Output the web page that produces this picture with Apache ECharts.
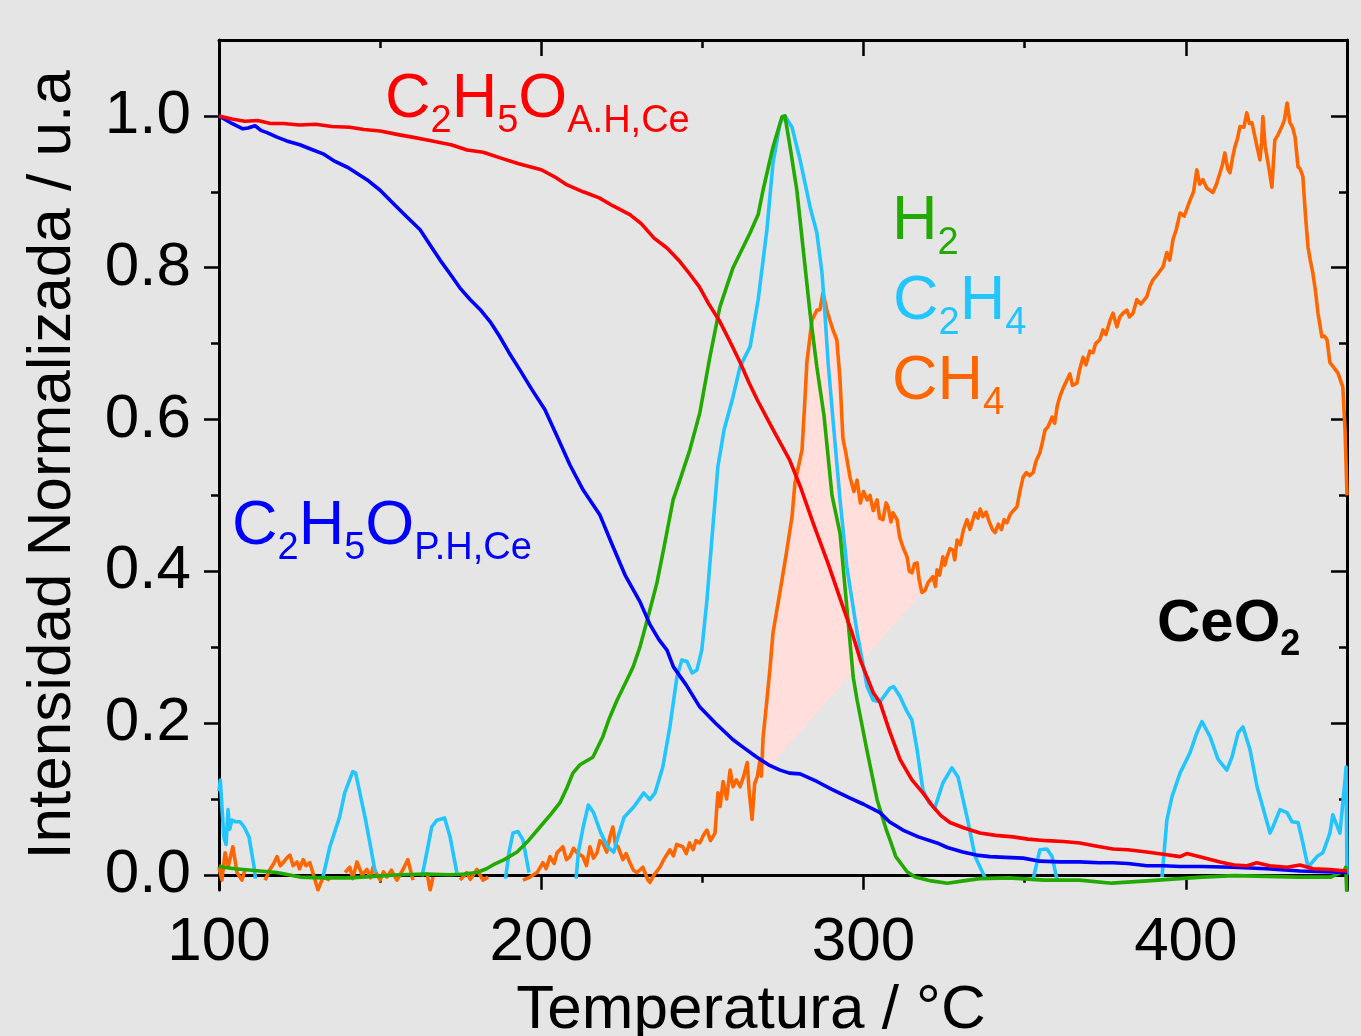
<!DOCTYPE html>
<html>
<head>
<meta charset="utf-8">
<script src="https://cdn.jsdelivr.net/npm/echarts/dist/echarts.min.js"></script>
<style>
html,body{margin:0;padding:0;background:#e5e5e5;}
#chart{width:1361px;height:1036px;}
</style>
</head>
<body>
<div id="chart"></div>
<script>
// ---------------- DATA (temperature °C, normalized intensity) ----------------
const xMajorTicks = [100, 200, 300, 400];
const xMinorTicks = [150, 250, 350];
const yMajorTicks = [0, 0.2, 0.4, 0.6, 0.8, 1.0];
const yMinorTicks = [0.1, 0.3, 0.5, 0.7, 0.9];

const c2h5oAH = [[100,1.0],[104,0.996],[108,0.993],[112,0.994],[116,0.99],[120,0.99],[125,0.988],[130,0.989],[135,0.986],[140.6,0.985],[145,0.982],[150,0.98],[156,0.975],[160,0.972],[165,0.968],[172,0.962],[177,0.955],[182,0.952],[187,0.945],[193,0.937],[200,0.929],[204,0.92],[208,0.909],[213,0.9],[218,0.892],[222,0.882],[227.5,0.87],[231,0.858],[235,0.839],[239,0.826],[243,0.808],[246,0.792],[249,0.775],[252,0.752],[255.4,0.729],[258.5,0.703],[261.7,0.675],[264.5,0.648],[267,0.626],[272,0.586],[277,0.547],[280.5,0.51],[284.3,0.464],[289,0.41],[293.6,0.353],[296.5,0.318],[299,0.283],[303,0.24],[305.1,0.227],[308,0.19],[311.3,0.152],[315,0.125],[318.4,0.108],[321.5,0.09],[324,0.078],[326.8,0.069],[331,0.062],[336.1,0.055],[341,0.052],[346.4,0.05],[351,0.047],[356.9,0.045],[362,0.044],[367.1,0.042],[372,0.038],[377.4,0.034],[382,0.033],[387.9,0.03],[393,0.027],[398.2,0.024],[400.3,0.028],[404,0.024],[410.6,0.017],[415,0.013],[419,0.012],[422,0.016],[426,0.012],[431.4,0.01],[435.4,0.013],[439.5,0.008],[444.7,0.007],[450,0.005]];

const c2h5oPH = [[100,1.0],[102,0.995],[104,0.99],[107.4,0.983],[109,0.984],[111.2,0.987],[113,0.981],[114.9,0.978],[118,0.972],[121,0.967],[125.1,0.962],[128,0.957],[132.3,0.95],[136,0.94],[140,0.932],[145.9,0.916],[150,0.902],[154,0.885],[158,0.868],[162.4,0.85],[165.5,0.83],[168.6,0.81],[172,0.79],[175,0.772],[177.9,0.758],[181,0.745],[184.1,0.729],[187,0.71],[190,0.688],[193.4,0.665],[197,0.64],[201.1,0.613],[205,0.577],[208.9,0.54],[213,0.507],[218.2,0.474],[222,0.435],[226,0.395],[230.6,0.36],[233.7,0.33],[236.5,0.31],[239,0.296],[241,0.274],[245,0.25],[249.2,0.221],[254,0.2],[259.5,0.178],[263,0.167],[266.9,0.155],[270.5,0.145],[274.1,0.138],[277,0.134],[280.3,0.133],[285.5,0.123],[290,0.113],[295.8,0.101],[300,0.093],[305.1,0.082],[308,0.07],[312.2,0.059],[317,0.05],[322.8,0.042],[326,0.036],[330.8,0.03],[335,0.026],[339.2,0.024],[344,0.023],[349.5,0.022],[354.7,0.018],[361,0.017],[367.1,0.017],[373,0.016],[377.4,0.016],[382,0.015],[387.9,0.012],[393,0.012],[398.2,0.011],[405,0.011],[414.6,0.01],[425,0.008],[435.4,0.005],[443,0.004],[450,0.003]];

const h2 = [[100,0.012],[101.2,0.01],[105,0.008],[112.7,0.005],[118,0.003],[125.1,-0.003],[132,-0.004],[140.6,-0.004],[148,-0.002],[156.2,0],[164,0.001],[171.7,0],[176,0.001],[180,0.003],[183,0.008],[185,0.013],[188.5,0.02],[192.5,0.03],[196,0.045],[199.6,0.063],[203,0.08],[205.8,0.095],[208,0.115],[209.8,0.134],[212,0.145],[216,0.155],[219.1,0.182],[221,0.205],[223.5,0.23],[226.6,0.257],[228.5,0.274],[230.6,0.3],[233.7,0.349],[235.9,0.385],[238,0.43],[240.9,0.494],[243,0.52],[246.1,0.56],[249.2,0.609],[252.3,0.682],[255.4,0.748],[259.5,0.8],[264.8,0.846],[267.3,0.87],[268.8,0.902],[271.9,0.959],[274.7,0.999],[275.6,1.0],[277.2,0.959],[279.3,0.902],[281.2,0.827],[283.4,0.74],[285.5,0.669],[287.7,0.606],[290.2,0.5],[292.7,0.45],[294.6,0.362],[296.8,0.26],[298,0.23],[301,0.165],[304.2,0.099],[307,0.06],[308.2,0.046],[310,0.024],[313.5,0.004],[316,-0.003],[321,-0.008],[326,-0.011],[331,-0.008],[336,-0.005],[345,-0.004],[356,-0.007],[367,-0.007],[377,-0.011],[388,-0.008],[398,-0.005],[405,-0.003],[415,-0.001],[425,-0.002],[435,-0.003],[445,-0.003],[449,0.005],[449.6,0.01],[450,-0.03]];

const c2h4 = [[100.0,0.11],[100.4,0.125],[100.9,0.09],[101.5,0.05],[102.2,0.04],[102.8,0.086],[103.3,0.06],[104,0.072],[105,0.07],[106.5,0.07],[107.8,0.063],[109.3,0.05],[110.9,0.01],[111.3,-0.005],[111.6,null],
[132.3,-0.002],[134.4,0.037],[137.4,0.076],[139,0.108],[141.5,0.136],[142.4,0.134],[145.5,0.072],[148.5,0.003],[149,null],
[163,-0.002],[164.5,0.03],[166,0.063],[167.6,0.072],[170,0.075],[171.7,0.05],[173.8,0.003],[174.2,null],
[188.9,-0.005],[190,0.03],[191.2,0.055],[192.8,0.057],[194.3,0.046],[196.2,0.003],[196.5,null],
[210.8,-0.005],[211.5,0.03],[213,0.063],[214.6,0.092],[216.2,0.082],[218.5,0.055],[220.6,0.037],[222.5,0.03],[223.8,0.05],[225.7,0.076],[228.8,0.09],[231.8,0.108],[233.7,0.099],[235.3,0.108],[237.7,0.142],[239.9,0.195],[242.1,0.261],[243.6,0.283],[245.2,0.281],[246.8,0.266],[248.3,0.27],[249.8,0.296],[251.4,0.362],[252.9,0.441],[254.8,0.538],[256.7,0.586],[259.5,0.63],[261.7,0.67],[264.8,0.696],[267.3,0.758],[270.0,0.85],[271.9,0.938],[274.1,0.991],[275.6,1.0],[277.8,0.985],[280.3,0.942],[283.4,0.88],[285.5,0.846],[287.1,0.793],[288.0,0.74],[289.0,0.675],[290.5,0.6],[292.7,0.494],[294.8,0.406],[298.0,0.319],[301.1,0.248],[303,0.23],[305.1,0.228],[308.2,0.246],[309.3,0.248],[311.3,0.235],[313.5,0.215],[315,0.204],[316.6,0.165],[318.4,0.112],[320.3,0.095],[322.1,0.088],[324.6,0.121],[327.4,0.141],[329.3,0.129],[332.1,0.076],[334.6,0.024],[337.7,-0.004],[338,null],
[352.6,-0.006],[354.7,0.033],[356.9,0.034],[358.5,0.024],[360,-0.006],[360.3,null],
[392.6,-0.003],[394.1,0.072],[395.7,0.103],[398.2,0.134],[401.3,0.161],[403.4,0.187],[405,0.202],[407.5,0.182],[410,0.152],[412.7,0.138],[414.3,0.155],[416.2,0.187],[417.7,0.195],[419.9,0.165],[422.1,0.116],[425.2,0.069],[426.1,0.055],[427,0.063],[429.2,0.086],[431.4,0.082],[432.9,0.07],[434.8,0.069],[436.3,0.042],[437.9,0.01],[440.7,0.024],[442.5,0.029],[444.7,0.055],[445.6,0.079],[447.8,0.055],[449.4,0.125],[449.7,0.142],[450,0.0]];

const ch4 = [[100.0,0.01],[100.9,-0.007],[101.9,0.029],[102.8,0.01],[104.3,0.037],[105.6,0.003],[107.1,-0.007],[108.1,0.007],[109.6,null],
[114.3,-0.007],[115.8,0.007],[117,0.015],[118.0,0.024],[119,0.012],[119.9,0.016],[121,0.022],[122.0,0.026],[123,0.012],[124.2,0.017],[125,0.008],[126.1,0.02],[127,0.012],[128.2,0.016],[129.8,-0.007],[130.7,-0.02],[132.3,-0.003],[134.4,-0.007],[135.5,null],
[139.1,0.003],[140.6,0.01],[141.5,-0.005],[142.8,0.017],[144.4,0.0],[145.9,0.007],[147,-0.004],[147.8,0.01],[150.0,-0.007],[151,0.004],[152.1,-0.003],[153.5,0.006],[155.2,-0.007],[157.1,0.007],[158.6,0.02],[160.2,-0.007],[161,null],
[164.5,0.003],[165.5,-0.02],[166.4,-0.003],[167,null],
[174.8,-0.007],[176.9,0.003],[178,-0.006],[180.0,0.007],[181.9,-0.007],[183.5,-0.003],[184.5,null],
[191.2,-0.007],[192,null],
[194.3,-0.007],[196.5,-0.003],[198.7,0.003],[200.5,0.016],[201.5,0.008],[202.7,0.024],[204,0.015],[204.9,0.029],[206.7,0.037],[207.8,0.02],[208.9,0.024],[210,0.035],[211.1,0.029],[212.9,0.024],[214,0.012],[215.1,0.037],[216.2,0.022],[217.3,0.029],[218.2,0.045],[219.1,0.042],[220.3,0.03],[221.3,0.05],[222.2,0.063],[223,0.04],[223.8,0.037],[225.3,0.02],[226.3,0.028],[227.5,0.016],[228.6,0.006],[229.7,0.003],[231.5,0.01],[233.1,-0.007],[233.7,-0.01],[235,0.0],[236.8,0.01],[238,0.02],[239.9,0.033],[241,0.025],[242,0.04],[243.9,0.037],[245,0.028],[246,0.042],[247.1,0.033],[248,0.045],[249.2,0.042],[250.3,0.052],[251.4,0.059],[252.5,0.045],[253.9,0.055],[254.8,0.108],[255.5,0.09],[256.4,0.123],[257.5,0.1],[258.6,0.138],[259.5,0.116],[260.5,0.125],[261.7,0.116],[262.8,0.13],[263.9,0.148],[264.5,0.11],[265.4,0.073],[266.2,0.12],[267.0,0.129],[267.9,0.152],[268.3,0.13],[268.8,0.18],[270.0,0.23],[271.0,0.274],[271.9,0.319],[273.1,0.349],[274.7,0.389],[276.2,0.428],[277.8,0.472],[278.7,0.516],[280.9,0.56],[281.8,0.626],[282.4,0.675],[284.0,0.731],[285.5,0.744],[286.5,0.745],[287.4,0.767],[288.6,0.744],[290.5,0.718],[291.7,0.705],[292.7,0.652],[293.6,0.575],[294.5,0.556],[295.8,0.524],[297,0.505],[298.0,0.52],[299,0.49],[300,0.505],[301.1,0.494],[302,0.5],[303,0.48],[304.2,0.494],[305,0.47],[306.0,0.468],[307.0,0.49],[307.6,0.485],[308.5,0.465],[309.1,0.477],[310.4,0.468],[311.2,0.445],[312.2,0.432],[313.5,0.419],[314.2,0.4],[315.0,0.398],[315.8,0.41],[316.6,0.411],[317.2,0.39],[318.1,0.372],[319.1,0.375],[320,0.385],[321.5,0.393],[322.3,0.38],[322.8,0.402],[323.6,0.395],[324.6,0.419],[325.2,0.408],[325.9,0.419],[326.8,0.43],[327.7,0.428],[328.3,0.415],[329.0,0.441],[330,0.435],[331,0.455],[332.1,0.468],[333,0.455],[334.6,0.477],[335.5,0.47],[336.2,0.482],[337.0,0.472],[338,0.478],[339,0.465],[340.0,0.455],[340.8,0.451],[341.8,0.462],[342.8,0.455],[343.6,0.468],[344.5,0.464],[345.5,0.475],[346.5,0.48],[347.6,0.485],[348.5,0.505],[349.5,0.524],[350.5,0.53],[351.5,0.526],[352.6,0.53],[353.5,0.545],[354.7,0.556],[355.5,0.57],[356.3,0.586],[357.2,0.59],[358.5,0.603],[359.3,0.595],[360.1,0.618],[360.9,0.63],[361.8,0.64],[363.1,0.652],[364,0.66],[364.8,0.645],[366.2,0.648],[367,0.665],[368.1,0.682],[369,0.672],[370.2,0.69],[371.2,0.688],[372,0.7],[373.3,0.705],[374.3,0.718],[375.2,0.712],[376.5,0.731],[377.4,0.74],[378.6,0.722],[379.5,0.735],[380.5,0.74],[381.7,0.744],[382.5,0.735],[383.6,0.74],[384.8,0.758],[386,0.752],[387.9,0.762],[388.8,0.775],[389.8,0.784],[391,0.79],[392.9,0.801],[394.1,0.82],[395,0.81],[396.0,0.837],[397,0.85],[398.2,0.872],[399.5,0.868],[401.3,0.889],[402.4,0.9],[403.4,0.929],[404.3,0.91],[405.3,0.916],[406.5,0.905],[408.4,0.899],[409.5,0.91],[410.6,0.925],[411.3,0.935],[412.1,0.951],[413,0.93],[413.7,0.925],[414.5,0.945],[415.2,0.959],[416,0.97],[416.8,0.986],[418,0.985],[418.9,1.004],[419.7,0.99],[420.5,0.991],[421.3,0.975],[422.1,0.959],[423,0.942],[423.5,0.965],[423.9,0.999],[424.6,0.96],[425.5,0.938],[426.7,0.906],[427.6,0.968],[428.6,0.975],[429.8,0.986],[430.6,0.995],[431.4,1.017],[432.3,0.991],[433.1,0.985],[433.9,0.972],[434.8,0.933],[435.5,0.93],[436.3,0.92],[437.1,0.87],[437.9,0.827],[438.6,0.81],[439.4,0.793],[440.2,0.77],[441.0,0.74],[442.2,0.709],[443,0.71],[443.8,0.705],[444.7,0.675],[446,0.668],[447.2,0.661],[448.7,0.643],[449.4,0.586],[450,0.5]];

// shaded region: CH4 curve between these temperatures, closed by a straight chord
const shadeRange = [268.3, 318.1];

// ---------------- CHART ----------------
const FONT = 'Liberation Sans, Arial, Helvetica, sans-serif';
const COLORS = {ah:'#ff0000', ph:'#0000ff', h2:'#22aa00', c2h4:'#22c5ff', ch4:'#ff6600'};

const shadePoly = ch4.filter(p => p[1] != null && p[0] >= shadeRange[0] && p[0] <= shadeRange[1]);

function richFor(color, bold, mainSize, subSize, subDrop) {
  const fw = bold ? 'bold' : 'normal';
  return {
    m: {fontFamily: FONT, fontSize: mainSize, lineHeight: mainSize, fill: color, fontWeight: fw, verticalAlign: 'top'},
    s: {fontFamily: FONT, fontSize: subSize, lineHeight: 10, fill: color, fontWeight: fw, verticalAlign: 'top',
        padding: [subDrop, 0, 0, 0]}
  };
}

function label(x, y, text, color, bold, mainSize, subSize, subDrop) {
  return {
    type: 'text', x: x, y: y, z: 100,
    style: {text: text, rich: richFor(color, bold, mainSize, subSize, subDrop), fill: color,
            align: 'left', verticalAlign: 'top'}
  };
}

const lineW = 3.6;
function lineSeries(name, data, color, z) {
  return {
    type: 'line', name: name, data: data, xAxisIndex: 0, yAxisIndex: 0,
    showSymbol: false, symbol: 'none', connectNulls: false, z: z,
    lineStyle: {color: color, width: lineW, join: 'round'}, emphasis: {disabled: true}
  };
}

const tickStyle = {color: '#000', width: 2.5};
const axisLineStyle = {color: '#000', width: 3};
const labelStyle = {fontFamily: FONT, fontSize: 62, color: '#000'};

const xBase = {type: 'value', min: 100, max: 450, interval: 100, splitLine: {show: false}};
const yBase = {type: 'value', min: -0.02, max: 1.1, splitLine: {show: false}};

const option = {
  backgroundColor: '#e5e5e5',
  animation: false,
  grid: {left: 219, right: 14, top: 40, bottom: 146, containLabel: false, outerBoundsMode: 'none'},
  xAxis: [
    Object.assign({}, xBase, {
      position: 'bottom',
      axisLine: {show: true, onZero: true, onZeroAxisIndex: 0, lineStyle: axisLineStyle},
      axisTick: {show: true, inside: false, length: 15, lineStyle: tickStyle, customValues: xMajorTicks},
      axisLabel: Object.assign({}, labelStyle, {margin: 22, customValues: xMajorTicks}),
      name: 'Temperatura / °C', nameLocation: 'middle', nameGap: 90,
      nameTextStyle: {fontFamily: FONT, fontSize: 62, color: '#000', padding: [0, 64, 0, 0]}
    }),
    Object.assign({}, xBase, {
      position: 'bottom',
      axisLine: {show: false, onZero: true, onZeroAxisIndex: 0},
      axisTick: {show: true, inside: false, length: 8, lineStyle: tickStyle, customValues: xMinorTicks},
      axisLabel: {show: false}
    }),
    Object.assign({}, xBase, {
      position: 'top',
      axisLine: {show: true, onZero: false, lineStyle: axisLineStyle},
      axisTick: {show: true, inside: true, length: 16, lineStyle: tickStyle, customValues: xMajorTicks},
      axisLabel: {show: false}
    }),
    Object.assign({}, xBase, {
      position: 'top',
      axisLine: {show: false, onZero: false},
      axisTick: {show: true, inside: true, length: 8, lineStyle: tickStyle, customValues: xMinorTicks},
      axisLabel: {show: false}
    })
  ],
  yAxis: [
    Object.assign({}, yBase, {
      position: 'left',
      axisLine: {show: true, onZero: false, lineStyle: axisLineStyle},
      axisTick: {show: true, inside: false, length: 15, lineStyle: tickStyle, customValues: yMajorTicks},
      axisLabel: Object.assign({}, labelStyle, {margin: 28, customValues: yMajorTicks,
        formatter: v => Number(v).toFixed(1)}),
      name: 'Intensidad Normalizada / u.a', nameLocation: 'middle', nameGap: 135,
      nameTextStyle: {fontFamily: FONT, fontSize: 62, color: '#000'}
    }),
    Object.assign({}, yBase, {
      position: 'left',
      axisLine: {show: false, onZero: false},
      axisTick: {show: true, inside: false, length: 8, lineStyle: tickStyle, customValues: yMinorTicks},
      axisLabel: {show: false}
    }),
    Object.assign({}, yBase, {
      position: 'right',
      axisLine: {show: true, onZero: false, lineStyle: axisLineStyle},
      axisTick: {show: true, inside: true, length: 16, lineStyle: tickStyle, customValues: yMajorTicks},
      axisLabel: {show: false}
    }),
    Object.assign({}, yBase, {
      position: 'right',
      axisLine: {show: false, onZero: false},
      axisTick: {show: true, inside: true, length: 8, lineStyle: tickStyle, customValues: yMinorTicks},
      axisLabel: {show: false}
    })
  ],
  series: [
    {
      type: 'custom', name: 'shade', xAxisIndex: 0, yAxisIndex: 0, z: 1, silent: true,
      data: [shadePoly[0]],
      renderItem: function (params, api) {
        return {
          type: 'polygon',
          shape: {points: shadePoly.map(p => api.coord(p))},
          style: {fill: '#ffdedc'}
        };
      }
    },
    lineSeries('CH4', ch4, COLORS.ch4, 3),
    lineSeries('C2H4', c2h4, COLORS.c2h4, 4),
    lineSeries('H2', h2, COLORS.h2, 5),
    lineSeries('C2H5O P.H', c2h5oPH, COLORS.ph, 6),
    lineSeries('C2H5O A.H', c2h5oAH, COLORS.ah, 7)
  ],
  graphic: [
    label(385, 68, '{m|C}{s|2}{m|H}{s|5}{m|O}{s|A.H,Ce}', COLORS.ah, false, 63, 38, 35),
    label(232, 495, '{m|C}{s|2}{m|H}{s|5}{m|O}{s|P.H,Ce}', COLORS.ph, false, 63, 38, 35),
    label(892, 190, '{m|H}{s|2}', COLORS.h2, false, 63, 38, 35),
    label(893, 270, '{m|C}{s|2}{m|H}{s|4}', COLORS.c2h4, false, 63, 38, 35),
    label(892, 350, '{m|CH}{s|4}', COLORS.ch4, false, 63, 38, 35),
    label(1157, 594, '{m|CeO}{s|2}', '#000000', true, 60, 36, 33)
  ]
};

const chart = echarts.init(document.getElementById('chart'), null, {renderer: 'canvas'});
chart.setOption(option);
</script>
</body>
</html>
